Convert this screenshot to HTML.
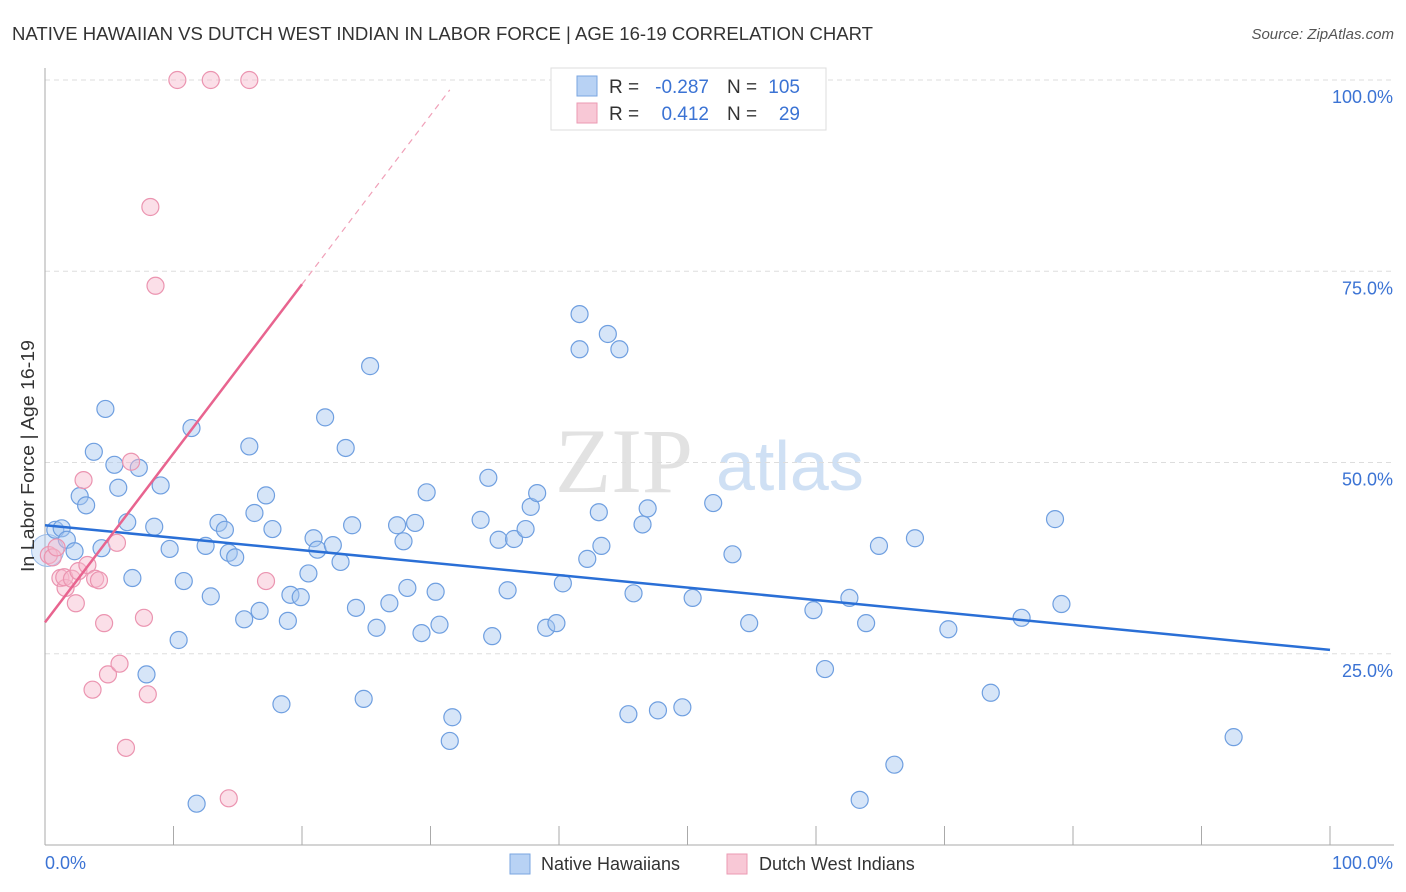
<!DOCTYPE html>
<html><head><meta charset="utf-8"><style>
body{margin:0;background:#fff;width:1406px;height:892px;overflow:hidden;font-family:"Liberation Sans",sans-serif}
svg{position:absolute;left:0;top:0}
</style></head><body>
<svg id="chart" width="1406" height="892">
<text x="12" y="40" font-size="18" fill="#333" textLength="861" lengthAdjust="spacingAndGlyphs">NATIVE HAWAIIAN VS DUTCH WEST INDIAN IN LABOR FORCE | AGE 16-19 CORRELATION CHART</text>
<text x="1394" y="39" font-size="15" fill="#555" font-style="italic" text-anchor="end">Source: ZipAtlas.com</text>
<text x="555" y="492" font-size="92" fill="#e2e2e2" font-family="Liberation Serif,serif">ZIP</text>
<text x="716" y="490" font-size="70" fill="#cfe0f4">atlas</text>
<g id="grid"></g>
<g id="marks"></g>
<text transform="translate(34,456) rotate(-90)" font-size="18" fill="#333" text-anchor="middle" textLength="232" lengthAdjust="spacingAndGlyphs">In Labor Force | Age 16-19</text>
<text x="45" y="869" font-size="18" fill="#3b73d4">0.0%</text>
<text x="1393" y="869" font-size="18" fill="#3b73d4" text-anchor="end">100.0%</text>
<g>
<rect x="551" y="68" width="275" height="62" fill="#fff" stroke="#ddd"/>
<rect x="577" y="76" width="20" height="20" fill="#b8d2f4" stroke="#7aa6e0"/>
<rect x="577" y="103" width="20" height="20" fill="#f8c8d6" stroke="#eb9ab3"/>
<text x="609" y="93" font-size="19" fill="#333">R =</text>
<text x="709" y="93" font-size="19" fill="#3b73d4" text-anchor="end">-0.287</text>
<text x="727" y="93" font-size="19" fill="#333">N =</text>
<text x="800" y="93" font-size="19" fill="#3b73d4" text-anchor="end">105</text>
<text x="609" y="120" font-size="19" fill="#333">R =</text>
<text x="709" y="120" font-size="19" fill="#3b73d4" text-anchor="end">0.412</text>
<text x="727" y="120" font-size="19" fill="#333">N =</text>
<text x="800" y="120" font-size="19" fill="#3b73d4" text-anchor="end">29</text>
</g>
<g>
<rect x="510" y="854" width="20" height="20" fill="#b8d2f4" stroke="#7aa6e0"/>
<text x="541" y="870" font-size="18" fill="#333">Native Hawaiians</text>
<rect x="727" y="854" width="20" height="20" fill="#f8c8d6" stroke="#eb9ab3"/>
<text x="759" y="870" font-size="18" fill="#333">Dutch West Indians</text>
</g>
</svg>
<script>
const yTicks=[25,50,75,100];
const yTickLabels=["25.0%","50.0%","75.0%","100.0%"];
const xTicks=[0,10,20,30,40,50,60,70,80,90,100];
const blueX=[0.8,1.3,1.7,2.3,2.7,3.2,3.8,4.4,4.7,5.4,5.7,6.4,6.8,7.3,7.9,8.5,9.0,9.7,10.4,10.8,11.4,11.8,12.5,12.9,13.5,14.0,14.3,14.8,15.5,15.9,16.3,16.7,17.2,17.7,18.4,18.9,19.1,19.9,20.5,20.9,21.2,21.8,22.4,23.0,23.4,23.9,24.2,24.8,25.3,25.8,26.8,27.4,27.9,28.2,28.8,29.3,29.7,30.4,30.7,31.5,31.7,33.9,34.5,34.8,35.3,36.0,36.5,37.4,37.8,38.3,39.0,39.8,40.3,41.6,41.6,42.2,43.1,43.3,43.8,44.7,45.4,45.8,46.5,46.9,47.7,49.6,50.4,52.0,53.5,54.8,59.8,60.7,62.6,63.4,63.9,64.9,66.1,67.7,70.3,73.6,76.0,78.6,79.1,92.5];
const blueY=[41.2,41.4,39.9,38.4,45.6,44.4,51.4,38.8,57.0,49.7,46.7,42.2,34.9,49.3,22.3,41.6,47.0,38.7,26.8,34.5,54.5,5.4,39.1,32.5,42.1,41.2,38.2,37.6,29.5,52.1,43.4,30.6,45.7,41.3,18.4,29.3,32.7,32.4,35.5,40.1,38.6,55.9,39.2,37.0,51.9,41.8,31.0,19.1,62.6,28.4,31.6,41.8,39.7,33.6,42.1,27.7,46.1,33.1,28.8,13.6,16.7,42.5,48.0,27.3,39.9,33.3,40.0,41.3,44.2,46.0,28.4,29.0,34.2,69.4,64.8,37.4,43.5,39.1,66.8,64.8,17.1,32.9,41.9,44.0,17.6,18.0,32.3,44.7,38.0,29.0,30.7,23.0,32.3,5.9,29.0,39.1,10.5,40.1,28.2,19.9,29.7,42.6,31.5,14.1];
const pinkX=[10.3,12.9,15.9,8.2,8.6,3.0,6.7,5.6,0.3,0.6,0.9,1.2,1.6,1.5,2.1,2.4,2.6,3.3,3.9,4.2,4.6,3.7,4.9,5.8,7.7,8.0,6.3,14.3,17.2];
const pinkY=[100,100,100,83.4,73.1,47.7,50.1,39.5,37.9,37.6,38.9,34.9,33.6,35.0,34.8,31.6,35.8,36.6,34.8,34.6,29.0,20.3,22.3,23.7,29.7,19.7,12.7,6.1,34.5];
const blueTrend=[41.8,25.5];
const pinkTrend=[29.1,2.21];
const NS="http://www.w3.org/2000/svg";
const X0=45,X1=1330,Y0=845,Y100=80;
const sx=v=>X0+(X1-X0)*v/100;
const sy=v=>Y0-(Y0-Y100)*v/100;
function el(t,a,p){const e=document.createElementNS(NS,t);for(const k in a)e.setAttribute(k,a[k]);p.appendChild(e);return e;}
const grid=document.getElementById('grid'),marks=document.getElementById('marks');
yTicks.forEach((v,i)=>{
  const l=el('line',{x1:X0,x2:1394,y1:sy(v),y2:sy(v),stroke:'#ddd','stroke-dasharray':'5,4'},grid);
  
  
  const t=el('text',{x:1393,y:sy(v)+23,'font-size':18,fill:'#3b73d4','text-anchor':'end'},grid);
  t.textContent=yTickLabels[i];
  
  
});
const ya=el('line',{x1:X0,x2:X0,y1:68,y2:Y0,stroke:'#aaa'},grid);


const xa=el('line',{x1:X0,x2:1394,y1:Y0,y2:Y0,stroke:'#aaa'},grid);


xTicks.forEach(v=>{
  const t=el('line',{x1:sx(v),x2:sx(v),y1:826,y2:Y0,stroke:'#aaa'},grid);
  
  
});
const big=el('circle',{cx:sx(0.2),cy:sy(38.5),r:16,fill:'rgba(160,196,240,0.35)',stroke:'#9abbe8'},marks);


blueX.forEach((v,i)=>{
  const c=el('circle',{cx:sx(v),cy:sy(blueY[i]),r:8.5,fill:'rgba(165,198,240,0.45)',stroke:'#6f9fe0','stroke-width':1.2},marks);
  
  
});
pinkX.forEach((v,i)=>{
  const c=el('circle',{cx:sx(v),cy:sy(pinkY[i]),r:8.5,fill:'rgba(246,185,205,0.45)',stroke:'#eb94b0','stroke-width':1.2},marks);
  
  
});
const bt=el('line',{x1:sx(0),y1:sy(blueTrend[0]),x2:sx(100),y2:sy(blueTrend[1]),stroke:'#2a6fd6','stroke-width':2.5},marks);


const pt=el('line',{x1:sx(0),y1:sy(pinkTrend[0]),x2:sx(20),y2:sy(pinkTrend[0]+pinkTrend[1]*20),stroke:'#e8648f','stroke-width':2.5},marks);


const pd=el('line',{x1:sx(20),y1:sy(pinkTrend[0]+pinkTrend[1]*20),x2:sx(31.5),y2:sy(pinkTrend[0]+pinkTrend[1]*31.5),stroke:'#f0a0b8','stroke-width':1.2,'stroke-dasharray':'6,5'},marks);


</script>
</body></html>
